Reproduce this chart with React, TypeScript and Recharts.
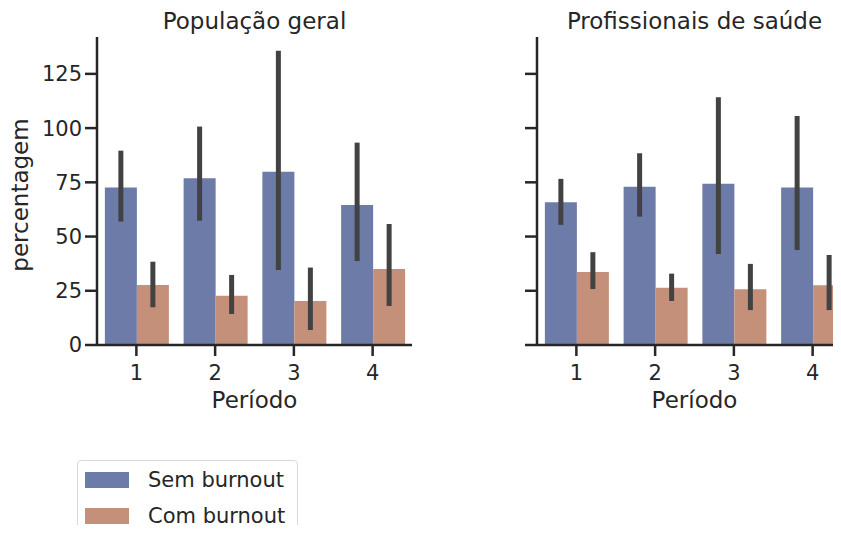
import { BarChart, Bar, XAxis, YAxis, ErrorBar, Legend } from "recharts";

const periodos = ["1", "2", "3", "4"];
const yTicks = [0, 25, 50, 75, 100, 125];
const legendOrder = ["Sem burnout", "Com burnout"];

// População geral: média e intervalo (baixo/alto) por período
const geralSem = [72.6, 76.9, 79.9, 64.6];
const geralSemLo = [56.9, 57.3, 34.6, 38.7];
const geralSemHi = [89.6, 100.7, 135.7, 93.3];
const geralCom = [27.7, 22.7, 20.3, 35.0];
const geralComLo = [17.4, 14.3, 6.9, 18.0];
const geralComHi = [38.4, 32.3, 35.7, 55.8];

// Profissionais de saúde
const saudeSem = [65.8, 73.0, 74.4, 72.6];
const saudeSemLo = [55.4, 59.2, 42.0, 43.8];
const saudeSemHi = [76.6, 88.4, 114.2, 105.6];
const saudeCom = [33.7, 26.4, 25.7, 27.5];
const saudeComLo = [25.8, 20.3, 16.1, 16.1];
const saudeComHi = [42.8, 32.9, 37.4, 41.5];

const BLUE = "#6d7ba8";
const ORANGE = "#c59079";
const INK = "#262626";
const ERR = "#424242";
const FONT = "DejaVu Sans";

function buildRows(
  sem: number[], semLo: number[], semHi: number[],
  com: number[], comLo: number[], comHi: number[]
) {
  return periodos.map((p, i) => ({
    periodo: p,
    sem: sem[i],
    semErr: [sem[i] - semLo[i], semHi[i] - sem[i]],
    com: com[i],
    comErr: [com[i] - comLo[i], comHi[i] - com[i]],
  }));
}

const geralData = buildRows(geralSem, geralSemLo, geralSemHi, geralCom, geralComLo, geralComHi);
const saudeData = buildRows(saudeSem, saudeSemLo, saudeSemHi, saudeCom, saudeComLo, saudeComHi);

const xLabel = (props: any) => {
  const vb = props.viewBox || {};
  return (
    <text x={vb.x + vb.width / 2} y={vb.y + 63} textAnchor="middle" fontSize={23} fill={INK} fontFamily={FONT}>
      Período
    </text>
  );
};

const yLabel = () => (
  <text x={28} y={195} transform="rotate(-90 28 195)" textAnchor="middle" fontSize={23} fill={INK} fontFamily={FONT}>
    percentagem
  </text>
);

const LegendBox = (props: any) => {
  const items = [...(props.payload || [])].sort(
    (a: any, b: any) => legendOrder.indexOf(a.value) - legendOrder.indexOf(b.value)
  );
  return (
    <div
      style={{
        position: "relative",
        width: 221,
        height: 90,
        border: "1px solid #d9d9d9",
        borderRadius: 4,
        boxSizing: "border-box",
        background: "#fff",
        fontFamily: FONT,
      }}
    >
      {items.map((it: any, i: number) => (
        <div key={it.value}>
          <div style={{ position: "absolute", left: 7, top: 11 + i * 36, width: 44, height: 16, background: it.color }} />
          <div style={{ position: "absolute", left: 70, top: 6 + i * 36, fontSize: 21, lineHeight: "26px", color: INK, whiteSpace: "nowrap" }}>
            {it.value}
          </div>
        </div>
      ))}
    </div>
  );
};

const noTickText = () => <g />;

function Panel({ data, showLabels }: { data: any[]; showLabels: boolean }) {
  return (
    <BarChart
      width={showLabels ? 430 : 420}
      height={533}
      data={data}
      margin={{ top: 37, right: showLabels ? 18 : 8, bottom: 118, left: 0 }}
      barCategoryGap="10%"
      barGap={0}
    >
      <XAxis
        dataKey="periodo"
        height={70}
        tickSize={11}
        tickMargin={9}
        tick={{ fontSize: 21, fill: INK, fontFamily: FONT }}
        axisLine={{ stroke: INK, strokeWidth: 2.5 }}
        tickLine={{ stroke: INK, strokeWidth: 2.5 }}
        label={xLabel}
      />
      <YAxis
        width={97}
        domain={[0, 142]}
        ticks={yTicks}
        interval={0}
        tickSize={12}
        tickMargin={3}
        tick={showLabels ? { fontSize: 21, fill: INK, fontFamily: FONT } : noTickText}
        axisLine={{ stroke: INK, strokeWidth: 2.5 }}
        tickLine={{ stroke: INK, strokeWidth: 2.5 }}
        label={showLabels ? yLabel : undefined}
      />
      <Bar dataKey="sem" name="Sem burnout" fill={BLUE} isAnimationActive={false}>
        <ErrorBar dataKey="semErr" direction="y" width={0} stroke={ERR} strokeWidth={5} />
      </Bar>
      <Bar dataKey="com" name="Com burnout" fill={ORANGE} isAnimationActive={false}>
        <ErrorBar dataKey="comErr" direction="y" width={0} stroke={ERR} strokeWidth={5} />
      </Bar>
      {showLabels && (
        <Legend
          layout="vertical"
          align="center"
          verticalAlign="middle"
          content={LegendBox}
          wrapperStyle={{ left: 77, top: 460, width: 221, height: 90 }}
        />
      )}
    </BarChart>
  );
}

const titleStyle = {
  position: "absolute" as const,
  top: 10,
  width: 315,
  textAlign: "center" as const,
  fontSize: 23,
  lineHeight: "23px",
  color: INK,
  fontFamily: FONT,
  whiteSpace: "nowrap" as const,
};

export default function App() {
  return (
    <div style={{ position: "relative", width: 841, height: 533, margin: -8, overflow: "hidden", background: "#fff" }}>
      <div style={{ position: "absolute", left: 0, top: 0 }}>
        <Panel data={geralData} showLabels={true} />
      </div>
      <div style={{ position: "absolute", left: 440, top: 0 }}>
        <Panel data={saudeData} showLabels={false} />
      </div>
      <div style={{ ...titleStyle, left: 97 }}>População geral</div>
      <div style={{ ...titleStyle, left: 537 }}>Profissionais de saúde</div>
    </div>
  );
}
